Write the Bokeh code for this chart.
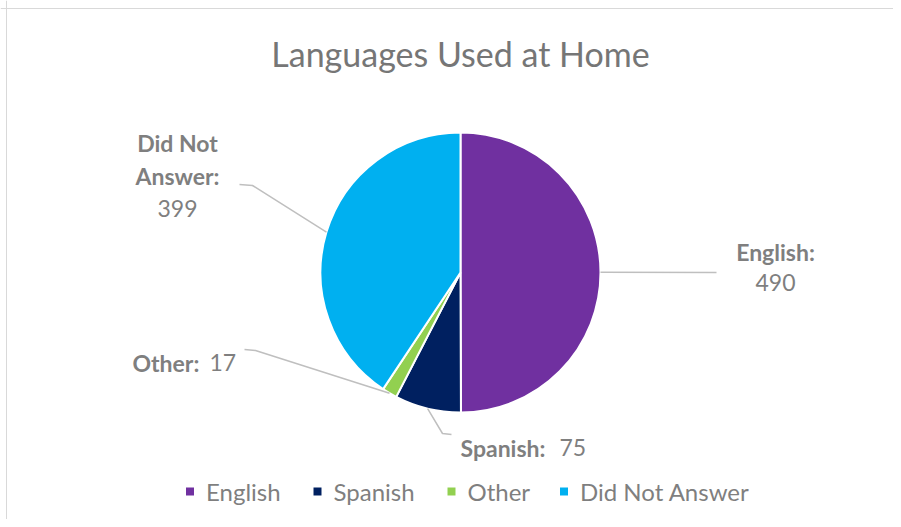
import math
from bokeh.plotting import figure
from bokeh.models import Range1d, ColumnDataSource, Span
from bokeh.core.properties import value
from bokeh.embed import file_html
from bokeh.resources import INLINE

categories = ["English", "Spanish", "Other", "Did Not Answer"]
counts = [490, 75, 17, 399]
colors = ["#7030A0", "#002060", "#92D050", "#00B0F0"]
title_text = "Languages Used at Home"

W, H = 893, 519
FONT = "Lato"
GRAY = "#7f7f7f"

p = figure(width=W, height=H, output_backend="svg", toolbar_location=None,
           x_range=Range1d(0, W), y_range=Range1d(0, H), min_border=0)
p.axis.visible = False
p.grid.visible = False
p.outline_line_color = None
p.background_fill_color = "white"

def Y(py):
    return H - py

# chart area border (left and top edges visible)
p.add_layout(Span(location=6, dimension="height", line_color="#d9d9d9", line_width=1))
p.add_layout(Span(location=Y(8), dimension="width", line_color="#d9d9d9", line_width=1))

cx, cy, r = 460, Y(272), 140
total = sum(counts)
starts, ends, mids = [], [], []
cum = 0
for c in counts:
    a0 = math.pi / 2 - 2 * math.pi * (cum + c) / total
    a1 = math.pi / 2 - 2 * math.pi * cum / total
    starts.append(a0)
    ends.append(a1)
    mids.append((a0 + a1) / 2)
    cum += c

src = ColumnDataSource(dict(start=starts, end=ends, color=colors))
p.wedge(x=cx, y=cy, radius=r, start_angle="start", end_angle="end",
        fill_color="color", line_color="white", line_width=2, source=src)

# title
p.text(x=[460], y=[Y(53)], text=[title_text], text_font=value(FONT),
       text_font_size="34px", text_color="#767676", text_align="center",
       text_baseline="middle")

# leader lines: from slice edge to label anchor (layout points)
leader_pts = [
    [(716, 272)],
    [(442, 433), (451, 434)],
    [(255, 350), (244, 349)],
    [(252, 185), (239, 184)],
]
for m, pts in zip(mids, leader_pts):
    sx = cx + r * math.cos(m)
    sy = cy + r * math.sin(m)
    xs = [sx] + [q[0] for q in pts]
    ys = [sy] + [Y(q[1]) for q in pts]
    p.line(xs, ys, line_color="#bfbfbf", line_width=1.5)

def lbl(x, y, t, bold, align="center"):
    p.text(x=[x], y=[Y(y)], text=[t], text_font=value(FONT), text_font_size="23px",
           text_font_style="bold" if bold else "normal", text_color=GRAY,
           text_align=align, text_baseline="middle")

# English
lbl(775, 251, categories[0] + ":", True)
lbl(775, 282, str(counts[0]), False)
# Spanish
lbl(460, 447, categories[1] + ":", True, "left")
lbl(559, 447, str(counts[1]), False, "left")
# Other
lbl(132, 362, categories[2] + ":", True, "left")
lbl(209, 362, str(counts[2]), False, "left")
# Did Not Answer
lbl(177, 142, "Did Not", True)
lbl(177, 175, "Answer:", True)
lbl(177, 208, str(counts[3]), False)

# legend
leg_x = [189.5, 317, 451, 563.5]
p.scatter(x=leg_x, y=[Y(491)] * 4, marker="square", size=8, fill_color=colors,
          line_color=None)
p.text(x=[x + 16 for x in leg_x], y=[Y(491)] * 4, text=categories,
       text_font=value(FONT), text_font_size="24px", text_color=GRAY,
       text_align="left", text_baseline="middle")

open("out.html", "w").write(file_html(p, INLINE))
